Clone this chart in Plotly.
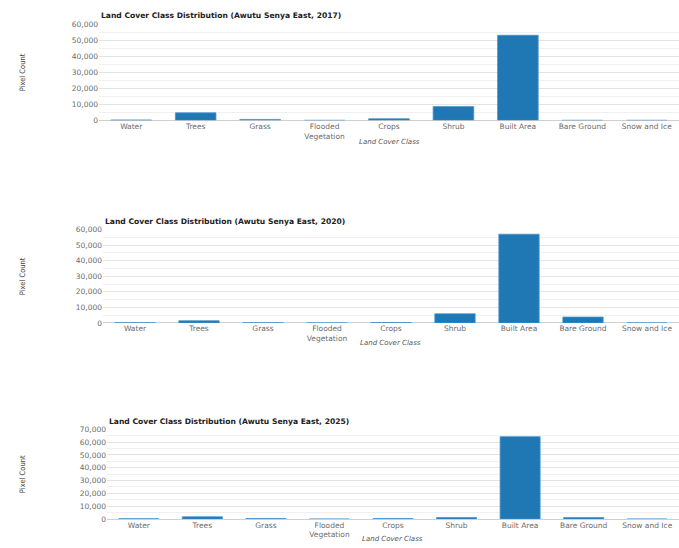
import plotly.graph_objects as go

categories = ["Water", "Trees", "Grass", "Flooded<br>Vegetation", "Crops", "Shrub",
              "Built Area", "Bare Ground", "Snow and Ice"]
counts_2017 = [200, 4700, 600, 0, 1000, 8600, 53200, 0, 0]
counts_2020 = [150, 1450, 100, 0, 300, 5900, 57000, 3800, 0]
counts_2025 = [300, 1800, 400, 0, 400, 1300, 64200, 1300, 0]
years = ["2017", "2020", "2025"]
y_ranges = [[0, 60000], [0, 60000], [0, 70000]]

W, H = 679, 548
x_domains = [[99 / W, 1.0], [103 / W, 1.0], [107 / W, 1.0]]
y_domains = [[1 - 118.3 / H, 1 - 20.7 / H],
             [1 - 324.3 / H, 1 - 229.3 / H],
             [1 - 523.7 / H, 1 - 432.3 / H]]
title_y = [12, 221, 424]
xtitle_y = [140, 345, 544]

fig = go.Figure()
series = [counts_2017, counts_2020, counts_2025]
tick_font = dict(family="DejaVu Sans", size=7.5, color="#6b6b6b")

for i, vals in enumerate(series):
    sfx = "" if i == 0 else str(i + 1)
    fig.add_trace(go.Bar(
        x=categories, y=vals, xaxis="x" + sfx, yaxis="y" + sfx,
        marker=dict(color="#1f77b4", line=dict(color="#4a93c9", width=0.8)),
        showlegend=False,
    ))
    fig.update_layout(**{
        "xaxis" + sfx: dict(domain=x_domains[i], anchor="y" + sfx,
                            tickfont=tick_font, showgrid=False, ticks="",
                            showline=False, fixedrange=True),
        "yaxis" + sfx: dict(domain=y_domains[i], anchor="x" + sfx,
                            range=y_ranges[i], dtick=10000, tickformat=",",
                            tickfont=tick_font, gridcolor="#e3e3e3", gridwidth=1,
                            minor=dict(showgrid=True, dtick=5000, gridcolor="#f0f0f0"),
                            zeroline=True, zerolinecolor="#cfcfcf", zerolinewidth=1,
                            ticks="", showline=False),
    })
    fig.add_annotation(
        text="Land Cover Class Distribution (Awutu Senya East, %s)" % years[i],
        xref="paper", yref="paper", x=x_domains[i][0], y=1 - title_y[i] / H,
        xanchor="left", yanchor="middle", showarrow=False,
        font=dict(family="DejaVu Sans", size=7.6, color="#222222", weight="bold"))
    fig.add_annotation(
        text="<i>Land Cover Class</i>", xref="paper", yref="paper",
        x=(x_domains[i][0] + x_domains[i][1]) / 2, y=1 - xtitle_y[i] / H,
        xanchor="center", yanchor="middle", showarrow=False,
        font=dict(family="DejaVu Sans", size=7, color="#555555"))
    fig.add_annotation(
        text="Pixel Count", xref="paper", yref="paper",
        x=22 / W, y=(y_domains[i][0] + y_domains[i][1]) / 2,
        xanchor="center", yanchor="middle", textangle=-90, showarrow=False,
        font=dict(family="Liberation Sans Narrow, DejaVu Sans Condensed, Roboto, sans-serif",
                  size=7.5, color="#444444"))

fig.update_layout(
    width=W, height=H, margin=dict(l=0, r=0, t=0, b=0),
    paper_bgcolor="white", plot_bgcolor="white", bargap=0.37,
    font=dict(family="DejaVu Sans"),
)
fig.write_html("out.html", config={"displayModeBar": False},
               post_script="document.body.style.margin='0';document.body.style.overflow='hidden';")
